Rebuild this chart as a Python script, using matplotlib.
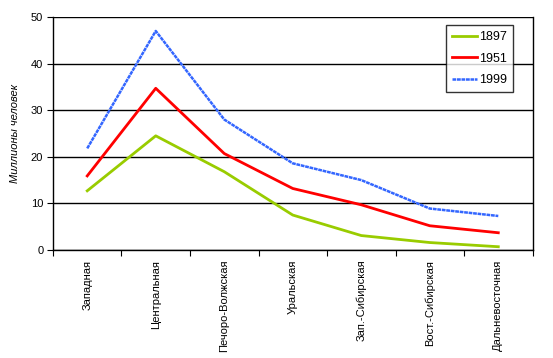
import numpy as np
import matplotlib
matplotlib.use("Agg")
from matplotlib import pyplot as plt

plt.rcParams['font.family'] = ['Liberation Sans', 'DejaVu Sans']

regions = ["Западная", "Центральная", "Печоро-Волжская", "Уральская",
           "Зап.-Сибирская", "Вост.-Сибирская", "Дальневосточная"]
pop_1897 = [12.7, 24.5, 16.8, 7.5, 3.1, 1.6, 0.7]
pop_1951 = [15.9, 34.7, 20.7, 13.2, 9.7, 5.2, 3.7]
pop_1999 = [21.8, 47.0, 28.0, 18.6, 15.0, 8.9, 7.3]
years = ["1897", "1951", "1999"]

fig = plt.figure(figsize=(5.53, 3.58), dpi=100)
ax = fig.add_axes([0.0958, 0.3017, 0.8672, 0.6508])

x = np.arange(len(regions)) + 0.5
ax.plot(x, pop_1897, color="#99CC00", lw=2, label=years[0])
ax.plot(x, pop_1951, color="#FF0000", lw=2, label=years[1])
ax.plot(x, pop_1999, color="#3366FF", lw=1.8, ls=(0, (1.5, 0.3)), label=years[2])

ax.set_xlim(0, len(regions))
ax.set_ylim(0, 50)
ax.set_yticks(range(0, 51, 10))
ax.yaxis.grid(True, color="black", lw=1)
ax.set_axisbelow(True)

ax.set_xticks(np.arange(len(regions) + 1))
ax.set_xticklabels([])
ax.set_xticks(x, minor=True)
ax.set_xticklabels(regions, minor=True, rotation=90, fontsize=8, va="top")
ax.tick_params(axis="x", which="minor", length=0, pad=7)
ax.tick_params(axis="x", which="major", length=4, direction="out")
ax.tick_params(axis="y", length=4, direction="out", labelsize=8, pad=3)

for s in ax.spines.values():
    s.set_linewidth(1)
ax.spines["top"].set_visible(False)

ax.set_ylabel("Миллионы человек", fontsize=8, style="italic", labelpad=8)

leg = ax.legend(loc="upper right", bbox_to_anchor=(0.959, 0.966), fontsize=9,
                frameon=True, fancybox=False, edgecolor="black", handlelength=2.0,
                handletextpad=0.1, labelspacing=0.75, borderpad=0.5, borderaxespad=0)
leg.get_frame().set_linewidth(1)

fig.savefig("out.png", dpi=100)
